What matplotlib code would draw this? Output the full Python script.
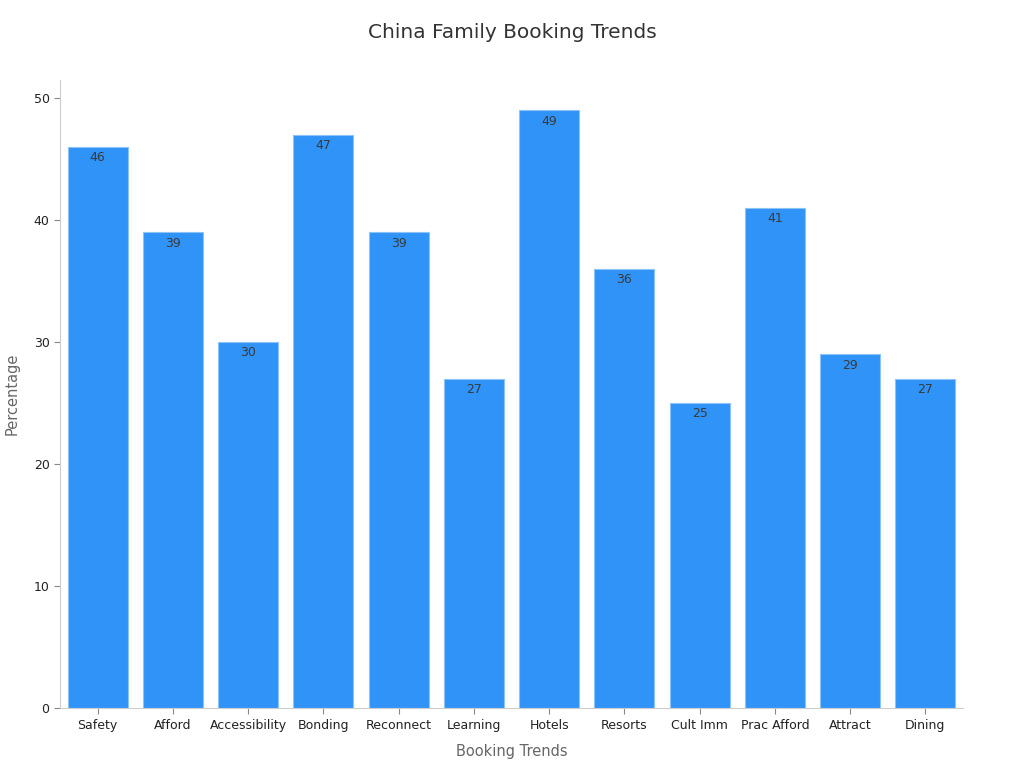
import matplotlib
matplotlib.use("Agg")
import matplotlib.pyplot as plt

categories = ["Safety", "Afford", "Accessibility", "Bonding", "Reconnect", "Learning",
              "Hotels", "Resorts", "Cult Imm", "Prac Afford", "Attract", "Dining"]
values = [46, 39, 30, 47, 39, 27, 49, 36, 25, 41, 29, 27]

fig = plt.figure(figsize=(10.24, 7.68), dpi=100)
ax = fig.add_axes([0.0586, 0.078, 0.8818, 0.818])

x = list(range(len(categories)))
bars = ax.bar(x, values, width=0.8, color="#2F93F7", edgecolor="#8CC4FA", linewidth=0.8)
for xi, v in zip(x, values):
    ax.text(xi, v - 0.35, f"{v}", ha="center", va="top", fontsize=9, color="#3A3A3A")

ax.set_xlim(-0.5, len(categories) - 0.5)
ax.set_ylim(0, 51.5)
ax.set_xticks(x)
ax.set_xticklabels(categories, fontsize=9, color="#222222")
ax.set_yticks([0, 10, 20, 30, 40, 50])
ax.tick_params(axis="y", labelsize=9, colors="#222222")
ax.tick_params(axis="both", color="#888888", length=4)
for s in ["top", "right"]:
    ax.spines[s].set_visible(False)
for s in ["left", "bottom"]:
    ax.spines[s].set_color("#CCCCCC")
ax.set_xlabel("Booking Trends", fontsize=10.5, color="#666666", labelpad=9)
ax.set_ylabel("Percentage", fontsize=10.5, color="#666666", labelpad=10)
fig.suptitle("China Family Booking Trends", fontsize=14.5, color="#333333", y=0.97)

fig.savefig("out.png", dpi=100)
